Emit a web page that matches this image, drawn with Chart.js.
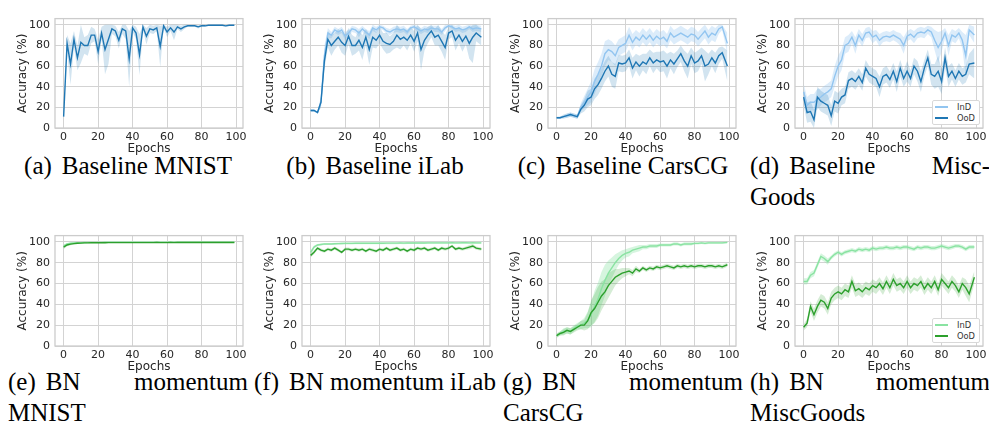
<!DOCTYPE html>
<html>
<head>
<meta charset="utf-8">
<script src="https://cdn.jsdelivr.net/npm/chart.js@4.4.1/dist/chart.umd.min.js"></script>
<style>
  body { margin: 0; width: 989px; height: 426px; background: #fff; position: relative; overflow: hidden; }
  canvas { position: absolute; }
  .cap { position: absolute; width: 240px; font-family: "Liberation Serif", "Times New Roman", serif; font-size: 25px; line-height: 31px; color: #000; }
  .cap .lab { display: inline-block; margin-right: 10px; }
  .center { text-align: center; white-space: nowrap; }
  .just { text-align: justify; hyphens: manual; }
  .legend { position: absolute; transform: translate(-100%, -100%); background: #fff; border: 1px solid #d8d8d8; border-radius: 2px; padding: 1px 4px 1px 2px; font-family: "DejaVu Sans", sans-serif; font-size: 8.3px; color: #333; }
  .legend div { display: flex; align-items: center; height: 10.5px; }
  .legend span.sw { display: inline-block; width: 13px; height: 2px; margin-right: 9px; }
</style>
</head>
<body>
<div class="cap center" style="left:8px;top:150px"><span class="lab">(a)</span>Baseline MNIST</div>
<div class="cap center" style="left:255px;top:150px"><span class="lab">(b)</span>Baseline iLab</div>
<div class="cap center" style="left:503px;top:150px"><span class="lab">(c)</span>Baseline CarsCG</div>
<div class="cap just" style="left:750px;top:150px"><span class="lab">(d)</span>Baseline Misc&shy;Goods</div>
<div class="cap just" style="left:8px;top:366px"><span class="lab">(e)</span>BN momentum MNIST</div>
<div class="cap center" style="left:254px;top:366px"><span class="lab">(f)</span>BN momentum iLab</div>
<div class="cap just" style="left:503px;top:366px"><span class="lab">(g)</span>BN momentum CarsCG</div>
<div class="cap just" style="left:750px;top:366px"><span class="lab">(h)</span>BN momentum MiscGoods</div>

<script>
const epochs = [0,2,4,6,8,10,12,14,16,18,20,22,24,26,28,30,32,34,36,38,40,42,44,46,48,50,52,54,56,58,60,62,64,66,68,70,72,74,76,78,80,82,84,86,88,90,92,94,96,99];
const xTicks = [0, 20, 40, 60, 80, 100];
const yTicks = [0, 20, 40, 60, 80, 100];
const seriesLabels = ["InD", "OoD"];

// (a) Baseline MNIST
const mnistBaseOod = [11,82,62,86,68,83,80,80,90,90, 74,92,76,86,96,94,85,96,94,67, 97,92,71,98,89,96,95,97,79,99, 93,97,93,98,96,98,99,99,99,98, 99,99,99.5,99.5,99.5,99.5,99.5,99,99.5,99.5];
const mnistBaseOodSpread = [2,8,20,8,12,20,8,10,8,6, 12,6,24,24,5,5,8,5,8,27, 4,6,20,3,8,4,4,3,20,2, 5,3,8,2,3,2,1,1,1,1.5, 1,1,0.5,0.5,0.5,0.5,0.5,0.8,0.5,0.5];

// (b) Baseline iLab
const ilabBaseInd = [17,17,15,25,70,92,90,95,93,95, 89,92,96,95,92,96,93,90,97,95, 98,97,94,93,95,96,95,96,93,97, 98,96,94,96,95,97,96,96,93,97, 99,98,96,97,95,96,98,96,97,96];
const ilabBaseOod = [17,17,15,25,65,86,80,84,88,83, 80,89,80,80,85,78,88,76,88,85, 90,84,82,81,84,90,86,88,85,90, 84,92,76,85,90,94,88,90,84,78, 92,94,85,90,84,89,82,88,92,88];
const ilabBaseIndSpread = [1,1,1,5,10,5,3,3,3,3, 4,3,3,3,4,3,3,4,3,3, 2,2,3,3,3,3,3,3,3,2, 2,3,3,3,3,2,3,3,3,3, 1,2,3,3,3,3,2,3,3,3];
const ilabBaseOodSpread = [1,1,1,5,8,8,10,8,8,10, 10,8,10,8,10,12,8,15,10,8, 8,8,10,8,8,12,10,8,10,8, 10,8,20,10,8,6,8,10,10,12, 6,6,10,8,10,8,15,25,8,8];

// (c) Baseline CarsCG
const carsBaseInd = [10,10,11,12,13,12,11,20,25,30, 35,45,52,60,72,76,74,70,78,80, 82,90,83,88,85,90,86,90,85,89, 86,88,84,92,88,90,92,90,88,91, 90,86,90,94,88,92,90,96,98,82];
const carsBaseOod = [10,10,11,12,13,12,11,18,22,28, 30,38,42,48,55,60,52,50,63,62, 63,68,58,64,60,64,62,68,63,66, 64,65,60,66,62,67,72,65,60,70, 63,65,70,60,62,68,63,70,73,60];
const carsBaseIndSpread = [1,1,1,2,2,2,2,4,6,8, 10,12,12,12,12,10,10,10,8,8, 8,8,8,7,7,7,7,7,7,7, 7,7,7,7,7,7,7,7,7,7, 7,7,7,7,7,7,7,5,3,10];
const carsBaseOodSpread = [1,1,2,2,2,2,2,4,6,8, 8,10,10,10,10,10,12,12,8,8, 8,8,10,8,10,8,10,8,10,8, 10,10,12,8,10,8,8,10,12,8, 10,10,8,15,10,8,10,8,6,15];

// (d) Baseline MiscGoods
const miscBaseInd = [35,22,25,25,28,30,33,35,38,50, 60,66,80,82,88,80,90,85,92,93, 88,90,85,88,89,88,90,88,86,80, 89,91,88,92,93,92,95,93,85,78, 84,92,80,90,88,92,85,70,95,90];
const miscBaseOod = [30,15,16,8,30,26,24,22,12,26, 24,30,32,46,48,45,50,44,58,52, 50,48,40,50,52,47,55,45,58,48, 55,48,60,55,45,58,68,52,50,55, 45,68,50,55,48,55,50,52,62,63];
const miscBaseIndSpread = [8,8,8,8,10,8,8,8,8,10, 10,10,8,8,6,8,6,6,5,5, 6,5,6,5,5,5,5,5,6,8, 5,5,6,5,5,5,4,5,10,15, 10,5,10,6,6,5,8,20,5,8];
const miscBaseOodSpread = [8,10,10,10,10,10,10,10,10,10, 10,8,8,8,8,8,8,8,8,8, 8,8,10,8,8,8,8,10,8,8, 10,8,8,10,10,8,8,10,12,15, 12,10,10,8,8,8,8,8,10,15];

// (e) BN momentum MNIST
const bnMnistInd = [96,98,98.6,99,99.2,99.3,99.4,99.5,99.5,99.5, 99.5,99.5,99.6,99.6,99.6,99.6,99.6,99.6,99.6,99.6, 99.6,99.6,99.6,99.6,99.6,99.6,99.6,99.6,99.6,99.6, 99.6,99.6,99.6,99.6,99.6,99.6,99.6,99.6,99.6,99.6, 99.6,99.6,99.6,99.6,99.6,99.6,99.6,99.6,99.6,99.6];
const bnMnistOod = [95,97,97.8,98.3,98.6,98.8,99,99,99.1,99.2, 99.2,99.2,99.2,99.3,99.3,99.3,99.3,99.3,99.3,99.3, 99.3,99.3,99.3,99.3,99.3,99.3,99.3,99.4,99.3,99.3, 99.3,99.4,99.3,99.4,99.4,99.4,99.4,99.4,99.4,99.4, 99.4,99.4,99.4,99.4,99.4,99.4,99.4,99.4,99.4,99.4];
const bnMnistIndSpread = [1.5,1,0.8,0.6,0.5,0.5,0.5,0.4,0.4,0.4, 0.4,0.4,0.4,0.4,0.4,0.4,0.4,0.4,0.4,0.4, 0.4,0.4,0.4,0.4,0.4,0.4,0.4,0.4,0.4,0.4, 0.4,0.4,0.4,0.4,0.4,0.4,0.4,0.4,0.4,0.4, 0.4,0.4,0.4,0.4,0.4,0.4,0.4,0.4,0.4,0.4];
const bnMnistOodSpread = [2,1.2,1,0.8,0.7,0.6,0.6,0.5,0.5,0.5, 0.5,0.5,0.5,0.5,0.5,0.5,0.5,0.5,0.5,0.5, 0.5,0.5,0.5,0.5,0.5,0.5,0.5,0.5,0.5,0.5, 0.5,0.5,0.5,0.5,0.5,0.5,0.5,0.5,0.5,0.5, 0.5,0.5,0.5,0.5,0.5,0.5,0.5,0.5,0.5,0.5];

// (f) BN momentum iLab
const bnIlabInd = [90,95,97,97.5,98,98,98,98.2,98.3,98.4, 98.5,98.5,98.5,98.6,98.6,98.6,98.6,98.7,98.7,98.7, 98.8,98.7,98.8,98.8,98.8,98.8,98.9,98.8,98.9,98.9, 98.9,98.9,99,98.9,99,99,99,99,99,99, 99,99.1,99,99,99.1,99.1,99,99.1,99,99];
const bnIlabOod = [87,90,94,92,91,93,92,94,92,90, 93,93,92,93,92,93,91,93,92,91, 93,92,94,92,93,94,92,93,91,93, 92,94,93,94,92,93,94,92,94,93, 94,96,93,94,93,94,95,96,94,93];
const bnIlabIndSpread = [2,1.5,1,1,1,1,1,1,1,1, 1,1,1,1,1,1,1,1,1,1, 1,1,1,1,1,1,1,1,1,1, 1,1,1,1,1,1,1,1,1,1, 1,1,1,1,1,1,1,1,1,1];
const bnIlabOodSpread = [2,2,1.5,1.5,1.5,1.5,1.5,1.5,1.5,1.5, 1.5,1.5,1.5,1.5,1.5,1.5,1.5,1.5,1.5,1.5, 1.5,1.5,1.5,1.5,1.5,1.5,1.5,1.5,1.5,1.5, 1.5,1.5,1.5,1.5,1.5,1.5,1.5,1.5,1.5,1.5, 1.5,1.5,1.5,1.5,1.5,1.5,2,2,1.5,1.5];

// (g) BN momentum CarsCG
const bnCarsInd = [10,12,14,15,14,17,19,20,22,25, 30,38,45,55,63,70,75,80,84,87, 89,90,92,93,94,95,95,96,96,96, 97,97,97,97,98,98,97,98,98,98, 98.5,98.5,99,98.5,99,99,99,99,99,99.5];
const bnCarsOod = [10,12,13,15,14,16,18,20,20,24, 32,36,42,48,52,58,62,66,68,70, 71,72,70,74,72,75,73,75,74,76, 75,76,77,76,75,77,76,77,76,77, 76,77,77,76,77,77,76,77,76,78];
const bnCarsIndSpread = [2,2,3,3,3,3,3,4,5,8, 12,15,16,16,15,12,10,8,6,5, 4,4,3,3,3,2,2,2,2,2, 1.5,1.5,1.5,1.5,1.5,1.5,1.5,1.5,1.5,1.5, 1,1,1,1,1,1,1,1,1,1];
const bnCarsOodSpread = [2,2,3,3,3,3,3,4,5,8, 12,14,15,14,12,12,10,8,6,5, 4,3,3,3,2,2,2,2,2,2, 2,2,2,2,2,2,2,2,2,2, 2,2,2,2,2,2,2,2,2,2];

// (h) BN momentum MiscGoods
const bnMiscInd = [62,62,68,70,78,86,84,81,85,88, 90,88,90,91,92,91,93,92,93,92, 94,93,94,94,95,94,94,95,94,95, 95,94,93,95,94,95,95,94,94,95, 96,95,94,95,96,96,95,93,95,95];
const bnMiscOod = [18,22,38,30,38,44,42,36,46,50, 52,50,54,52,62,53,55,52,56,54, 58,56,60,55,62,56,64,58,60,56, 62,56,60,58,62,55,60,56,62,54, 64,60,56,62,58,52,60,56,50,66];
const bnMiscIndSpread = [3,3,3,3,3,3,3,3,2,2, 2,2,2,2,2,2,2,2,2,2, 2,2,2,2,2,2,2,2,2,2, 2,2,2,2,2,2,2,2,2,2, 2,2,2,2,2,2,2,2,2,2];
const bnMiscOodSpread = [3,4,5,6,6,6,6,6,6,6, 6,6,6,6,6,6,6,6,6,6, 6,6,6,6,6,6,6,6,6,6, 6,6,6,6,6,6,6,6,6,6, 6,6,6,6,6,6,6,8,8,6];

const blue = { ind: "#92c5f0", ood: "#1f77b4", indBand: "rgba(146,197,240,0.32)", oodBand: "rgba(31,119,180,0.2)" };
const green = { ind: "#8ae3a2", ood: "#2ca02c", indBand: "rgba(138,227,162,0.35)", oodBand: "rgba(44,160,44,0.2)" };

const colLeft = [55, 302, 548, 795];
const rowTop = [13, 230];
const rowHeight = [115, 116];
const plotW = 188;
const axisW = 50;
const axisH = 30;
const padTop = 6;
const padRight = 8;

const panels = [
  { ind: null, ood: mnistBaseOod, indS: null, oodS: mnistBaseOodSpread, col: 0, row: 0, pal: blue },
  { ind: ilabBaseInd, ood: ilabBaseOod, indS: ilabBaseIndSpread, oodS: ilabBaseOodSpread, col: 1, row: 0, pal: blue },
  { ind: carsBaseInd, ood: carsBaseOod, indS: carsBaseIndSpread, oodS: carsBaseOodSpread, col: 2, row: 0, pal: blue },
  { ind: miscBaseInd, ood: miscBaseOod, indS: miscBaseIndSpread, oodS: miscBaseOodSpread, col: 3, row: 0, pal: blue, legend: true },
  { ind: bnMnistInd, ood: bnMnistOod, indS: bnMnistIndSpread, oodS: bnMnistOodSpread, col: 0, row: 1, pal: green },
  { ind: bnIlabInd, ood: bnIlabOod, indS: bnIlabIndSpread, oodS: bnIlabOodSpread, col: 1, row: 1, pal: green },
  { ind: bnCarsInd, ood: bnCarsOod, indS: bnCarsIndSpread, oodS: bnCarsOodSpread, col: 2, row: 1, pal: green },
  { ind: bnMiscInd, ood: bnMiscOod, indS: bnMiscIndSpread, oodS: bnMiscOodSpread, col: 3, row: 1, pal: green, legend: true },
];

const pts = (vals) => vals.map((v, i) => ({ x: epochs[i], y: v }));
const upper = (vals, s) => vals.map((v, i) => ({ x: epochs[i], y: Math.min(100, v + s[i]) }));
const lower = (vals, s) => vals.map((v, i) => ({ x: epochs[i], y: Math.max(0, v - s[i]) }));

const tickFont = { family: "DejaVu Sans", size: 11 };
const titleFont = { family: "DejaVu Sans", size: 12 };
const textColor = "#262626";
const gridColor = "#d3d3d3";

const framePlugin = {
  id: "frame",
  beforeDatasetsDraw(chart) {
    const { ctx, chartArea: a } = chart;
    ctx.save();
    ctx.strokeStyle = "#cccccc";
    ctx.lineWidth = 1.3;
    ctx.strokeRect(a.left, a.top, a.right - a.left, a.bottom - a.top);
    ctx.restore();
  },
};

const lineDs = (data, color) => ({ data: data, borderColor: color, borderWidth: 1.4, pointRadius: 0, tension: 0, fill: false });
const bandDs = (data, color, fill) => ({ data: data, borderWidth: 0, borderColor: "transparent", backgroundColor: color, pointRadius: 0, tension: 0, fill: fill });

panels.forEach((p) => {
  const plotH = rowHeight[p.row];
  const left = colLeft[p.col] - axisW;
  const top = rowTop[p.row] - padTop;
  const cv = document.createElement("canvas");
  cv.width = axisW + plotW + padRight;
  cv.height = padTop + plotH + axisH;
  cv.style.left = left + "px";
  cv.style.top = top + "px";
  document.body.appendChild(cv);

  const datasets = [lineDs(pts(p.ood), p.pal.ood)];
  if (p.ind) datasets.push(lineDs(pts(p.ind), p.pal.ind));
  datasets.push(bandDs(upper(p.ood, p.oodS), "transparent", false));
  datasets.push(bandDs(lower(p.ood, p.oodS), p.pal.oodBand, "-1"));
  if (p.ind) {
    datasets.push(bandDs(upper(p.ind, p.indS), "transparent", false));
    datasets.push(bandDs(lower(p.ind, p.indS), p.pal.indBand, "-1"));
  }

  const chart = new Chart(cv, {
    type: "line",
    data: { datasets: datasets },
    options: {
      responsive: false,
      animation: false,
      events: [],
      layout: { padding: { top: padTop, right: padRight, left: 0, bottom: 0 } },
      plugins: { legend: { display: false }, tooltip: { enabled: false } },
      scales: {
        x: {
          type: "linear",
          min: -5,
          max: 104,
          afterBuildTicks: (s) => { s.ticks = xTicks.map((v) => ({ value: v })); },
          afterFit: (s) => { s.height = axisH; },
          grid: { color: gridColor, lineWidth: 1, drawTicks: false },
          border: { display: false },
          ticks: { font: tickFont, color: textColor, padding: 3, maxRotation: 0, autoSkip: false },
          title: { display: true, text: "Epochs", font: titleFont, color: textColor, padding: { top: 0, bottom: 1.8 } },
        },
        y: {
          min: 0,
          max: 106,
          afterBuildTicks: (s) => { s.ticks = yTicks.map((v) => ({ value: v })); },
          afterFit: (s) => { s.width = axisW; },
          grid: { color: gridColor, lineWidth: 1, drawTicks: false },
          border: { display: false },
          ticks: { font: tickFont, color: textColor, padding: 5, autoSkip: false },
          title: { display: true, text: "Accuracy (%)", font: titleFont, color: textColor, padding: { top: 10.8, bottom: 0 } },
        },
      },
    },
    plugins: [framePlugin],
  });

  if (p.legend) {
    const a = chart.chartArea;
    const box = document.createElement("div");
    box.className = "legend";
    box.style.left = (left + a.right - 3) + "px";
    box.style.top = (top + a.bottom - 3) + "px";
    const colors = [p.pal.ind, p.pal.ood];
    seriesLabels.forEach((lab, k) => {
      const row = document.createElement("div");
      const sw = document.createElement("span");
      sw.className = "sw";
      sw.style.background = colors[k];
      row.appendChild(sw);
      row.appendChild(document.createTextNode(lab));
      box.appendChild(row);
    });
    document.body.appendChild(box);
  }
});
</script>
</body>
</html>
